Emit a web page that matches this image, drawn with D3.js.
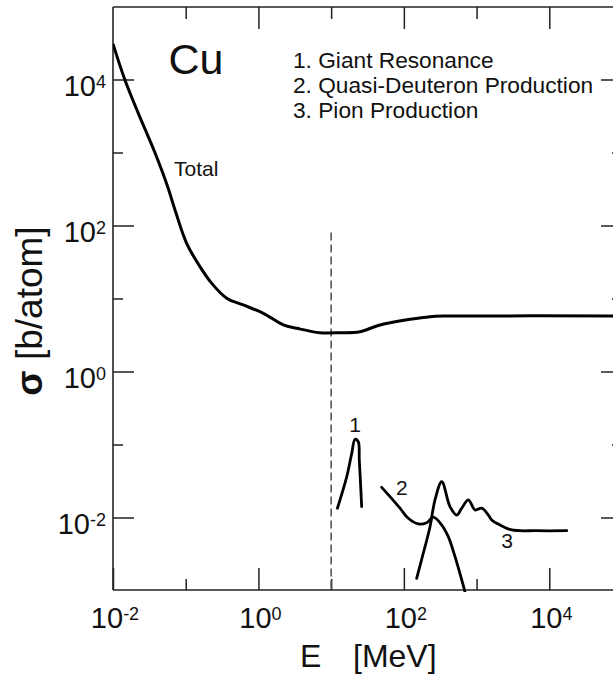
<!DOCTYPE html>
<html>
<head>
<meta charset="utf-8">
<script src="https://cdn.jsdelivr.net/npm/d3@7"></script>
<style>
  html, body { margin: 0; padding: 0; background: #fff; }
  svg { display: block; }
  text { font-family: Arial, "Liberation Sans", sans-serif; fill: #111; }
</style>
</head>
<body>
<svg id="chart" width="613" height="677"></svg>
<script>
// ---------- data ----------
const totalE = [0.01, 0.0146, 0.0223, 0.0379, 0.0565, 0.0713, 0.103, 0.157, 0.228, 0.366, 0.619, 1.17, 2.20, 3.36, 7.03, 13.2, 24.9, 47.0, 122, 229, 388, 100000];
const totalSigma = [30800, 9840, 3440, 984, 340, 163, 57.0, 27.3, 16.1, 10.1, 8.15, 6.27, 4.34, 3.91, 3.40, 3.40, 3.51, 4.34, 5.19, 5.64, 5.75, 5.75];

const giantE = [12.2, 16.4, 19.2, 21.3, 23.6, 24.4, 26.3];
const giantSigma = [0.0134, 0.0362, 0.0757, 0.118, 0.109, 0.0614, 0.0141];

const qdE = [49.6, 64.5, 88.5, 115, 158, 206, 254, 332, 408, 506, 693];
const qdSigma = [0.0259, 0.0193, 0.0134, 0.00975, 0.00815, 0.00849, 0.0101, 0.00789, 0.00546, 0.00290, 0.00096];

const pionE = [150, 185, 229, 268, 332, 431, 533, 625, 771, 953, 1178, 1452, 1615, 2103, 3041, 6714, 17380];
const pionSigma = [0.00147, 0.00324, 0.00748, 0.0174, 0.0309, 0.0141, 0.0108, 0.0134, 0.0174, 0.0127, 0.0134, 0.0108, 0.00925, 0.00789, 0.00675, 0.00659, 0.00659];

const curveLabels = ["1", "2", "3"];
const curveLabelE = [21.3, 94, 2620];
const curveLabelSigma = [0.15, 0.0203, 0.00382];

const thresholdE = 10;
const thresholdTop = 80;

const xTickValues = [1e-2, 1e0, 1e2, 1e4];
const xTickExps = ["-2", "0", "2", "4"];
const xMinorValues = [1e-1, 1e1, 1e3];
const yTickValues = [1e4, 1e2, 1e0, 1e-2];
const yTickExps = ["4", "2", "0", "-2"];
const yMinorValues = [1e3, 1e1, 1e-1];

const legendLines = ["1. Giant Resonance", "2. Quasi-Deuteron Production", "3. Pion Production"];
const elementName = "Cu";
const totalLabel = "Total";
const xTitleParts = ["E", "[MeV]"];
const yTitleParts = ["σ", " [b/atom]"];

// ---------- layout ----------
const svg = d3.select("#chart");
const pLeft = 113, pRight = 622, pTop = 7, pBottom = 590;
const x = d3.scaleLog().domain([1e-2, 1e5]).range([pLeft, pRight]);
const y = d3.scaleLog().domain([1e-3, 1e5]).range([590.5, 6.5]);
const axisColor = "#222";

const frame = svg.append("g");
frame.append("line").attr("x1", pLeft).attr("x2", pLeft).attr("y1", pTop).attr("y2", pBottom)
  .attr("stroke", axisColor).attr("stroke-width", 1.6);
frame.append("line").attr("x1", pLeft).attr("x2", pRight).attr("y1", pTop).attr("y2", pTop)
  .attr("stroke", axisColor).attr("stroke-width", 1.6);
frame.append("line").attr("x1", pLeft).attr("x2", pRight).attr("y1", pBottom).attr("y2", pBottom)
  .attr("stroke", axisColor).attr("stroke-width", 1.6);
frame.append("line").attr("x1", pRight).attr("x2", pRight).attr("y1", pTop).attr("y2", pBottom)
  .attr("stroke", axisColor).attr("stroke-width", 1.6);

function styleAxis(g) {
  g.select(".domain").remove();
  g.selectAll(".tick line").attr("stroke", axisColor).attr("stroke-width", 1.5);
  g.selectAll(".tick text").remove();
}
const majorLen = 22, minorLen = 11;
svg.append("g").attr("transform", `translate(0,${pBottom})`)
  .call(d3.axisBottom(x).tickValues(xTickValues).tickSizeInner(-majorLen).tickSizeOuter(0)).call(styleAxis);
svg.append("g").attr("transform", `translate(0,${pBottom})`)
  .call(d3.axisBottom(x).tickValues(xMinorValues).tickSizeInner(-minorLen).tickSizeOuter(0)).call(styleAxis);
svg.append("g").attr("transform", `translate(0,${pTop})`)
  .call(d3.axisTop(x).tickValues([1e0, 1e2, 1e4]).tickSizeInner(-majorLen).tickSizeOuter(0)).call(styleAxis);
svg.append("g").attr("transform", `translate(0,${pTop})`)
  .call(d3.axisTop(x).tickValues(xMinorValues).tickSizeInner(-minorLen - 1).tickSizeOuter(0)).call(styleAxis);
svg.append("g").attr("transform", `translate(${pLeft},0)`)
  .call(d3.axisLeft(y).tickValues(yTickValues).tickSizeInner(-majorLen + 1).tickSizeOuter(0)).call(styleAxis);
svg.append("g").attr("transform", `translate(${pLeft},0)`)
  .call(d3.axisLeft(y).tickValues(yMinorValues).tickSizeInner(-minorLen + 1).tickSizeOuter(0)).call(styleAxis);
svg.append("g").attr("transform", `translate(${pRight},0)`)
  .call(d3.axisRight(y).tickValues(yTickValues).tickSizeInner(-majorLen + 1).tickSizeOuter(0)).call(styleAxis);
svg.append("g").attr("transform", `translate(${pRight},0)`)
  .call(d3.axisRight(y).tickValues(yMinorValues).tickSizeInner(-minorLen + 1).tickSizeOuter(0)).call(styleAxis);

const tickFont = 29, supFont = 18;
xTickValues.forEach((v, i) => {
  const t = svg.append("text").attr("x", x(v) + 2).attr("y", 628)
    .attr("text-anchor", "middle").attr("font-size", tickFont);
  t.append("tspan").text("10");
  t.append("tspan").attr("font-size", supFont).attr("dy", -8).text(xTickExps[i]);
});
yTickValues.forEach((v, i) => {
  const t = svg.append("text").attr("x", 106).attr("y", y(v) + 16)
    .attr("text-anchor", "end").attr("font-size", tickFont);
  t.append("tspan").text("10");
  t.append("tspan").attr("font-size", supFont).attr("dy", -8).text(yTickExps[i]);
});

const xt = svg.append("text").attr("y", 667).attr("font-size", 32);
xt.append("tspan").attr("x", 300).text(xTitleParts[0]);
xt.append("tspan").attr("x", 353).text(xTitleParts[1]);

const yt = svg.append("text").attr("transform", "translate(42,311) rotate(-90)")
  .attr("text-anchor", "middle").attr("font-size", 37);
yt.append("tspan").attr("font-weight", "bold").text(yTitleParts[0]);
yt.append("tspan").text(yTitleParts[1]);

svg.append("line")
  .attr("x1", x(thresholdE)).attr("x2", x(thresholdE))
  .attr("y1", y(thresholdTop)).attr("y2", pBottom)
  .attr("stroke", "#555").attr("stroke-width", 1.6).attr("stroke-dasharray", "8,4");

const lineFree = d3.line().x(d => x(d[0])).y(d => y(d[1])).curve(d3.curveCatmullRom.alpha(0.5));
svg.append("clipPath").attr("id", "clip").append("rect")
  .attr("x", pLeft).attr("y", pTop).attr("width", pRight - pLeft).attr("height", pBottom - pTop + 2);
const curves = svg.append("g").attr("clip-path", "url(#clip)");
curves.append("path").datum(d3.zip(totalE, totalSigma)).attr("d", lineFree)
  .attr("fill", "none").attr("stroke", "#000").attr("stroke-width", 3).attr("stroke-linejoin", "round");
[[giantE, giantSigma], [qdE, qdSigma], [pionE, pionSigma]].forEach(([e, s]) => {
  curves.append("path").datum(d3.zip(e, s)).attr("d", lineFree)
    .attr("fill", "none").attr("stroke", "#000").attr("stroke-width", 2.8)
    .attr("stroke-linejoin", "round").attr("stroke-linecap", "round");
});

curveLabels.forEach((l, i) => {
  svg.append("text").attr("x", x(curveLabelE[i])).attr("y", y(curveLabelSigma[i]))
    .attr("text-anchor", "middle").attr("font-size", 21).text(l);
});

svg.append("text").attr("x", 196).attr("y", 74).attr("text-anchor", "middle")
  .attr("font-size", 43).text(elementName);
svg.append("text").attr("x", 174).attr("y", 176).attr("font-size", 21).text(totalLabel);
legendLines.forEach((l, i) => {
  svg.append("text").attr("x", 293).attr("y", 68 + i * 25).attr("font-size", 22.7).text(l);
});
</script>
</body>
</html>
